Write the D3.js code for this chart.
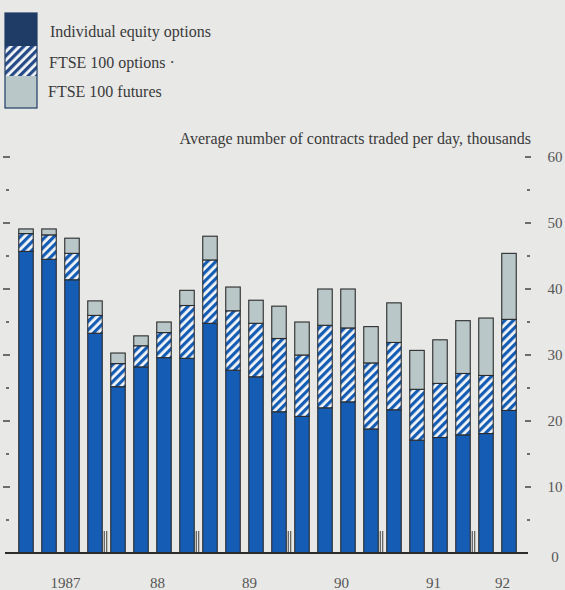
<!DOCTYPE html>
<html>
<head>
<meta charset="utf-8">
<script src="https://cdn.jsdelivr.net/npm/d3@7"></script>
<style>
  body { margin: 0; background: #e8e8e6; }
  svg { display: block; font-family: "Liberation Serif", "DejaVu Serif", serif; }
</style>
</head>
<body>
<div id="chart"></div>
<script>
const W = 565, H = 590;

// quarters 1987 Q1 .. 1992 Q2
const quarters = ['87Q1','87Q2','87Q3','87Q4','88Q1','88Q2','88Q3','88Q4','89Q1','89Q2','89Q3','89Q4',
  '90Q1','90Q2','90Q3','90Q4','91Q1','91Q2','91Q3','91Q4','92Q1','92Q2'];
const years = ['1987', '88', '89', '90', '91', '92'];
const yearOf = quarters.map(q => years[+q.slice(0, 2) - 87]);

// thousands of contracts per day
const equity  = [45.7, 44.5, 41.4, 33.3, 25.2, 28.2, 29.6, 29.5, 34.8, 27.7, 26.7, 21.4,
  20.7, 22.0, 22.9, 18.8, 21.7, 17.1, 17.5, 17.9, 18.1, 21.6];
const options = [2.7, 3.7, 4.0, 2.7, 3.5, 3.2, 3.8, 8.0, 9.6, 9.0, 8.1, 11.1,
  9.3, 12.5, 11.2, 10.0, 10.2, 7.7, 8.2, 9.3, 8.8, 13.8];
const futures = [0.7, 0.9, 2.3, 2.2, 1.6, 1.5, 1.6, 2.3, 3.6, 3.6, 3.5, 4.9,
  5.0, 5.5, 5.9, 5.5, 6.0, 5.9, 6.6, 8.0, 8.7, 10.0];

const seriesNames = ['Individual equity options', 'FTSE 100 options \u00b7', 'FTSE 100 futures'];
const tickVals = d3.range(0, 61, 5);

const colors = { equity: '#155db4', futures: '#b9c7c9', outline: '#2b2b2b', text: '#3a3a3a', legendEq: '#1e3c66' };

const svg = d3.select('#chart').append('svg')
  .attr('width', W).attr('height', H);

const defs = svg.append('defs');
const hatch = (id, col) => {
  const p = defs.append('pattern')
    .attr('id', id)
    .attr('patternUnits', 'userSpaceOnUse')
    .attr('width', 6).attr('height', 6)
    .attr('patternTransform', 'rotate(45)');
  p.append('rect').attr('width', 6).attr('height', 6).attr('fill', '#f4f6f8');
  p.append('rect').attr('width', 3.2).attr('height', 6).attr('fill', col);
};
hatch('hatch', colors.equity);
hatch('hatchL', '#254a85');

const x = d3.scaleBand().domain(quarters).range([14.5, 520.5]).paddingInner(0.37).paddingOuter(0.185);
const y = d3.scaleLinear().domain([0, 60]).range([553, 157]);

const table = quarters.map((q, i) => ({ q, equity: equity[i], options: options[i], futures: futures[i] }));
const stack = d3.stack().keys(['equity', 'options', 'futures'])(table);
const fills = { equity: colors.equity, options: 'url(#hatch)', futures: colors.futures };

// axis title
svg.append('text')
  .attr('x', 531).attr('y', 144)
  .attr('text-anchor', 'end')
  .attr('font-size', 16)
  .attr('fill', colors.text)
  .text('Average number of contracts traded per day, thousands');

// ticks both sides
const gAx = svg.append('g');
tickVals.filter(v => v > 0).forEach(v => {
  const long = v % 10 === 0;
  gAx.append('line')
    .attr('x1', long ? 3 : 6).attr('x2', long ? 10 : 9)
    .attr('y1', y(v)).attr('y2', y(v))
    .attr('stroke', colors.outline).attr('stroke-width', 1.3);
  gAx.append('line')
    .attr('x1', long ? 525 : 527).attr('x2', long ? 531 : 530)
    .attr('y1', y(v)).attr('y2', y(v))
    .attr('stroke', colors.outline).attr('stroke-width', 1.3);
  if (long) {
    gAx.append('text')
      .attr('x', 555).attr('y', y(v) + 5)
      .attr('text-anchor', 'middle')
      .attr('font-size', 15)
      .attr('fill', '#555')
      .text(v);
  }
});
gAx.append('text')
  .attr('x', 555).attr('y', y(0) + 9)
  .attr('text-anchor', 'middle')
  .attr('font-size', 15)
  .attr('fill', '#555')
  .text(0);

// bars
const gB = svg.append('g');
stack.forEach(layer => {
  gB.selectAll(null)
    .data(layer)
    .join('rect')
    .attr('x', d => x(d.data.q))
    .attr('y', d => y(d[1]))
    .attr('width', x.bandwidth())
    .attr('height', d => y(d[0]) - y(d[1]))
    .attr('fill', fills[layer.key])
    .attr('stroke', colors.outline)
    .attr('stroke-width', 1.1);
});

// baseline
svg.append('line')
  .attr('x1', 5).attr('x2', 528)
  .attr('y1', y(0)).attr('y2', y(0))
  .attr('stroke', colors.outline).attr('stroke-width', 2);

// year separators and labels
years.forEach((yr, k) => {
  const qs = quarters.filter((q, i) => yearOf[i] === yr);
  const centers = qs.map(q => x(q) + x.bandwidth() / 2);
  svg.append('text')
    .attr('x', d3.mean(centers) + 5).attr('y', 588)
    .attr('text-anchor', 'middle')
    .attr('font-size', 15)
    .attr('fill', '#555')
    .text(yr);
  if (k < years.length - 1) {
    const sx = x(qs[qs.length - 1]) + x.bandwidth() + 2;
    [sx, sx + 2.5].forEach(lx => {
      svg.append('line')
        .attr('x1', lx).attr('x2', lx)
        .attr('y1', y(0) - 22).attr('y2', y(0))
        .attr('stroke', colors.outline).attr('stroke-width', 0.9);
    });
  }
});

// legend
const lg = svg.append('g');
const swatchFills = [colors.legendEq, 'url(#hatchL)', colors.futures];
const swY = [13, 46, 76, 108];
seriesNames.forEach((name, i) => {
  lg.append('rect')
    .attr('x', 5).attr('y', swY[i])
    .attr('width', 32).attr('height', swY[i + 1] - swY[i])
    .attr('fill', swatchFills[i]);
  lg.append('text')
    .attr('x', 50 - i).attr('y', [37, 68, 97][i])
    .attr('font-size', 16)
    .attr('fill', colors.text)
    .text(name);
});
lg.append('rect')
  .attr('x', 5).attr('y', 13).attr('width', 32).attr('height', 95)
  .attr('fill', 'none').attr('stroke', colors.legendEq).attr('stroke-width', 1.2);
</script>
</body>
</html>
